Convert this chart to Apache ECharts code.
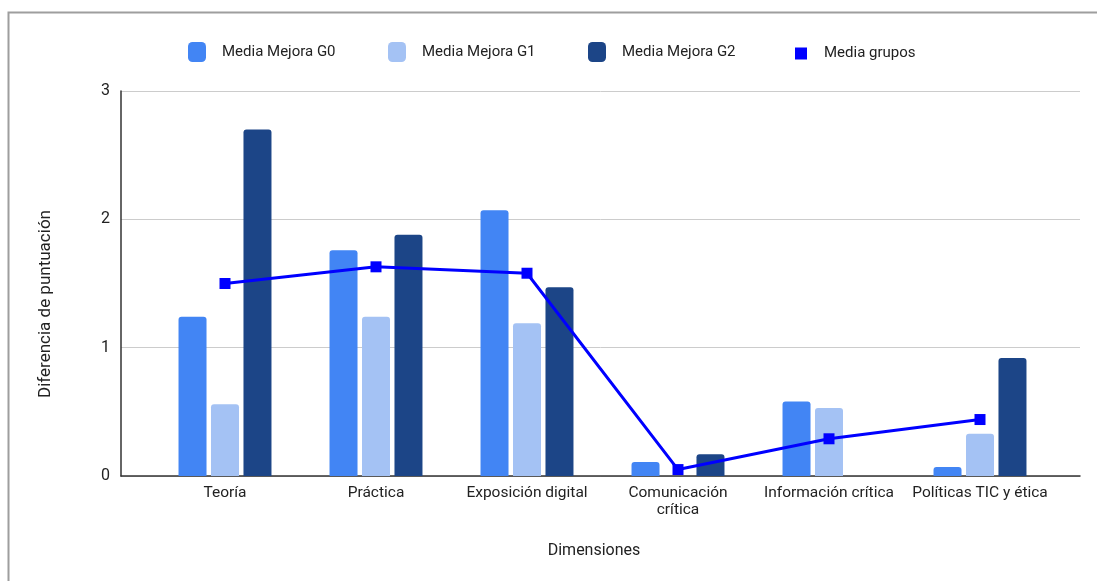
<!DOCTYPE html>
<html>
<head>
<meta charset="utf-8">
<script src="https://cdn.jsdelivr.net/npm/echarts@6/dist/echarts.min.js"></script>
<style>
  html, body { margin: 0; padding: 0; background: #fff; }
  #chart { width: 1097px; height: 581px; }
</style>
</head>
<body>
<div id="chart"></div>
<script>
// Dimensions evaluated
const categories = ['Teoría', 'Práctica', 'Exposición digital', 'Comunicación\ncrítica', 'Información crítica', 'Políticas TIC y ética'];
// Mean improvement per group (score difference)
const mejoraG0 = [1.24, 1.76, 2.07, 0.11, 0.58, 0.07];
const mejoraG1 = [0.56, 1.24, 1.19, -0.12, 0.53, 0.33];
const mejoraG2 = [2.70, 1.88, 1.47, 0.17, -0.24, 0.92];
// Average over the three groups
const mediaGrupos = [1.50, 1.63, 1.58, 0.05, 0.29, 0.44];
const yTicks = [0, 1, 2, 3];

const seriesNames = ['Media Mejora G0', 'Media Mejora G1', 'Media Mejora G2', 'Media grupos'];
const colors = ['#4285f4', '#a4c2f4', '#1c4587', '#0000ff'];
const font = 'Roboto, "Noto Sans", sans-serif';

const chart = echarts.init(document.getElementById('chart'), null, { renderer: 'canvas' });

const barSeries = (name, data, color) => ({
  name, type: 'bar', xAxisIndex: 1, yAxisIndex: 1, data,
  barWidth: 28, barGap: '16%',
  itemStyle: { color, borderRadius: [3, 3, 0, 0] },
  emphasis: { disabled: true }
});

// one legend entry per series, each placed on its own
const legendLeft = [188, 388, 588, 795];
const legendText = { fontSize: 15, color: '#222', fontFamily: font, padding: [0, 0, 0, 11] };
const legends = seriesNames.map((name, i) => i < 3
  ? { data: [name], left: legendLeft[i], top: 42, padding: 0, itemWidth: 18, itemHeight: 20, icon: 'roundRect',
      textStyle: legendText, selectedMode: false }
  : { data: [{ name, icon: 'rect' }], left: legendLeft[i], top: 46, padding: 0, itemWidth: 12, itemHeight: 12,
      textStyle: Object.assign({}, legendText, { padding: [0, 0, 0, 12] }), selectedMode: false });

chart.setOption({
  animation: false,
  backgroundColor: '#fff',
  textStyle: { fontFamily: font },
  graphic: [
    { type: 'rect', shape: { x: 8.5, y: 12.5, width: 1100, height: 580 },
      style: { fill: 'none', stroke: '#9e9e9e', lineWidth: 2 }, silent: true },
    { type: 'text', x: 46, y: 304, rotation: Math.PI / 2,
      style: { text: 'Diferencia de puntuación', fill: '#222', font: '17px ' + font, textAlign: 'center', textVerticalAlign: 'middle' } },
    { type: 'text', x: 594, y: 551,
      style: { text: 'Dimensiones', fill: '#222', font: '16px ' + font, textAlign: 'center', textVerticalAlign: 'middle' } }
  ],
  legend: legends,
  grid: [
    { left: 121, right: 17, top: 91, bottom: 105 },
    { left: 149.5, right: 41.5, top: 91, bottom: 105 }
  ],
  xAxis: [
    { gridIndex: 0, type: 'category', data: [''], axisLine: { lineStyle: { color: '#333', width: 1.5 } },
      axisTick: { show: false }, axisLabel: { show: false } },
    { gridIndex: 1, type: 'category', data: categories, axisLine: { show: false }, axisTick: { show: false },
      axisLabel: { interval: 0, color: '#222', fontSize: 15.5, margin: 9, lineHeight: 17, fontFamily: font } }
  ],
  yAxis: [
    { gridIndex: 0, type: 'value', min: yTicks[0], max: yTicks[yTicks.length - 1], interval: 1,
      axisLine: { show: true, lineStyle: { color: '#333', width: 1.5 } }, axisTick: { show: false },
      splitLine: { lineStyle: { color: '#cccccc', width: 1 } },
      axisLabel: { color: '#222', fontSize: 16, margin: 11, fontFamily: font } },
    { gridIndex: 1, type: 'value', min: yTicks[0], max: yTicks[yTicks.length - 1], interval: 1,
      show: false, splitLine: { show: false } }
  ],
  series: [
    barSeries(seriesNames[0], mejoraG0, colors[0]),
    barSeries(seriesNames[1], mejoraG1, colors[1]),
    barSeries(seriesNames[2], mejoraG2, colors[2]),
    {
      name: seriesNames[3], type: 'line', xAxisIndex: 1, yAxisIndex: 1, data: mediaGrupos,
      symbol: 'rect', symbolSize: 11, z: 5,
      lineStyle: { color: colors[3], width: 3 },
      itemStyle: { color: colors[3] },
      emphasis: { disabled: true }
    }
  ]
});
</script>
</body>
</html>
